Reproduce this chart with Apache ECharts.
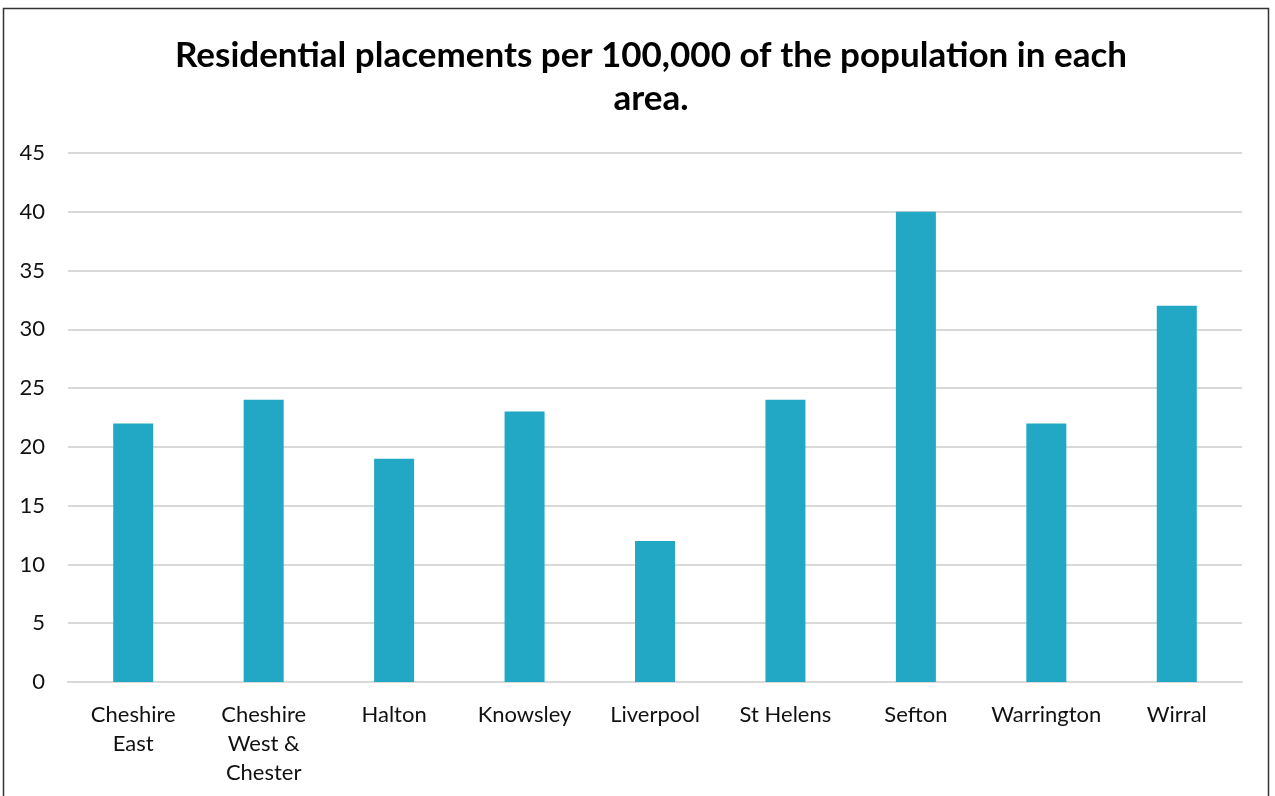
<!DOCTYPE html>
<html>
<head>
<meta charset="utf-8">
<script src="https://cdn.jsdelivr.net/npm/echarts@6/dist/echarts.min.js"></script>
<style>
  html, body { margin: 0; padding: 0; background: #fff; }
  #chart { width: 1275px; height: 796px; }
</style>
</head>
<body>
<div id="chart"></div>
<script>
// Areas and their residential placements per 100,000 population
const areas = ['Cheshire\nEast', 'Cheshire\nWest &\nChester', 'Halton', 'Knowsley', 'Liverpool', 'St Helens', 'Sefton', 'Warrington', 'Wirral'];
const placements = [22, 24, 19, 23, 12, 24, 40, 22, 32];
const yTicks = { min: 0, max: 45, interval: 5 };

const chart = echarts.init(document.getElementById('chart'));
const FONT = 'Lato, "Open Sans", sans-serif';

chart.setOption({
  backgroundColor: '#ffffff',
  animation: false,
  title: {
    text: 'Residential placements per 100,000 of the population in each\narea.',
    left: 646,
    top: 29,
    textAlign: 'center',
    textStyle: {
      fontFamily: FONT,
      fontWeight: 'bold',
      fontSize: 35,
      lineHeight: 43,
      color: '#000000'
    }
  },
  graphic: [{
    type: 'rect',
    shape: { x: 3.5, y: 8.5, width: 1265, height: 800 },
    style: { fill: 'none', stroke: '#333333', lineWidth: 1.5 },
    silent: true
  }],
  grid: { left: 68, right: 33, top: 153, bottom: 114, containLabel: false },
  xAxis: {
    type: 'category',
    data: areas,
    axisLine: { show: true, lineStyle: { color: '#d9d9d9', width: 2 } },
    axisTick: { show: false },
    axisLabel: {
      interval: 0,
      margin: 18,
      fontFamily: FONT,
      fontSize: 22,
      lineHeight: 29,
      color: '#111111',
      verticalAlign: 'top'
    }
  },
  yAxis: {
    type: 'value',
    min: yTicks.min,
    max: yTicks.max,
    interval: yTicks.interval,
    axisLine: { show: false },
    axisTick: { show: false },
    axisLabel: {
      margin: 23,
      fontFamily: FONT,
      fontSize: 22,
      color: '#111111'
    },
    splitLine: { show: true, lineStyle: { color: '#d9d9d9', width: 2 } }
  },
  series: [{
    type: 'bar',
    data: placements,
    barWidth: 40,
    itemStyle: { color: '#22a7c5' }
  }]
});
</script>
</body>
</html>
